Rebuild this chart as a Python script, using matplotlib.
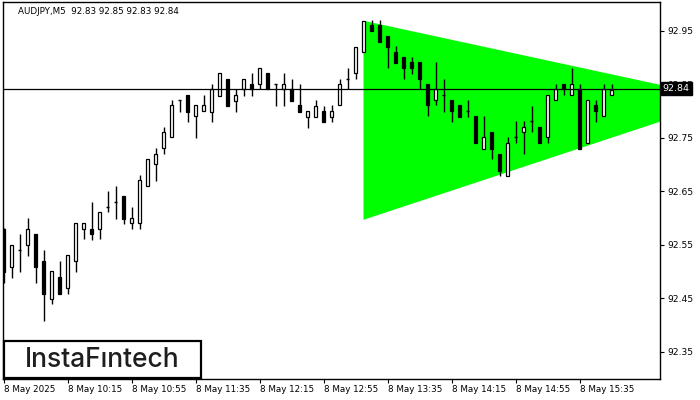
"""AUDJPY M5 candles with a bullish symmetrical triangle (MT4 style)."""
import matplotlib
matplotlib.use("Agg")
import matplotlib.pyplot as plt
from matplotlib.patches import Rectangle, Polygon
from matplotlib.transforms import blended_transform_factory

SYMBOL = "AUDJPY,M5"
LAST_OHLC = [92.83, 92.85, 92.83, 92.84]
BID = 92.842

# one entry per 5-minute bar, 09:35 .. 15:55
opens = [92.580, 92.509, 92.540, 92.550, 92.571, 92.520, 92.449, 92.490, 92.470, 92.520,
         92.580, 92.580, 92.580, 92.621, 92.630, 92.642, 92.591, 92.591, 92.660, 92.701,
         92.731, 92.752, 92.821, 92.830, 92.791, 92.800, 92.799, 92.829, 92.860, 92.819,
         92.842, 92.851, 92.851, 92.871, 92.851, 92.842, 92.842, 92.812, 92.789, 92.789,
         92.800, 92.789, 92.812, 92.860, 92.871, 92.911, 92.961, 92.961, 92.941, 92.911,
         92.901, 92.892, 92.892, 92.851, 92.821, 92.830, 92.821, 92.812, 92.800, 92.791,
         92.729, 92.761, 92.720, 92.679, 92.752, 92.761, 92.782, 92.771, 92.752, 92.821,
         92.851, 92.830, 92.842, 92.741, 92.812, 92.791, 92.830]
highs = [92.582, 92.550, 92.571, 92.600, 92.571, 92.541, 92.501, 92.520, 92.531, 92.591,
         92.591, 92.630, 92.612, 92.651, 92.660, 92.642, 92.621, 92.681, 92.711, 92.731,
         92.771, 92.821, 92.821, 92.830, 92.812, 92.830, 92.851, 92.871, 92.860, 92.842,
         92.860, 92.871, 92.881, 92.871, 92.851, 92.871, 92.860, 92.851, 92.800, 92.821,
         92.810, 92.812, 92.860, 92.881, 92.920, 92.969, 92.971, 92.971, 92.941, 92.922,
         92.901, 92.901, 92.892, 92.851, 92.892, 92.860, 92.821, 92.812, 92.821, 92.791,
         92.791, 92.761, 92.720, 92.752, 92.782, 92.782, 92.810, 92.771, 92.830, 92.851,
         92.851, 92.881, 92.851, 92.821, 92.821, 92.851, 92.851]
lows = [92.479, 92.488, 92.500, 92.529, 92.479, 92.408, 92.440, 92.458, 92.458, 92.500,
        92.561, 92.559, 92.561, 92.612, 92.599, 92.589, 92.580, 92.580, 92.660, 92.670,
        92.720, 92.752, 92.799, 92.780, 92.750, 92.800, 92.780, 92.829, 92.810, 92.799,
        92.829, 92.829, 92.842, 92.842, 92.810, 92.810, 92.819, 92.799, 92.769, 92.789,
        92.780, 92.780, 92.812, 92.842, 92.860, 92.911, 92.950, 92.929, 92.881, 92.890,
        92.860, 92.870, 92.842, 92.791, 92.812, 92.799, 92.780, 92.789, 92.789, 92.741,
        92.729, 92.711, 92.679, 92.679, 92.741, 92.720, 92.761, 92.741, 92.741, 92.821,
        92.830, 92.830, 92.729, 92.741, 92.780, 92.791, 92.830]
closes = [92.500, 92.550, 92.540, 92.580, 92.509, 92.458, 92.501, 92.458, 92.531, 92.591,
          92.591, 92.571, 92.612, 92.621, 92.630, 92.599, 92.600, 92.671, 92.711, 92.720,
          92.761, 92.812, 92.821, 92.799, 92.812, 92.812, 92.842, 92.871, 92.810, 92.830,
          92.860, 92.842, 92.881, 92.842, 92.851, 92.851, 92.819, 92.799, 92.800, 92.810,
          92.780, 92.800, 92.851, 92.860, 92.920, 92.969, 92.950, 92.929, 92.920, 92.890,
          92.881, 92.881, 92.860, 92.812, 92.842, 92.830, 92.800, 92.789, 92.800, 92.741,
          92.752, 92.729, 92.688, 92.741, 92.752, 92.771, 92.782, 92.741, 92.830, 92.842,
          92.842, 92.851, 92.729, 92.821, 92.800, 92.842, 92.840]

time_tick_bars = [0, 8, 16, 24, 32, 40, 48, 56, 64, 72]
time_tick_labels = ["8 May 2025", "8 May 10:15", "8 May 10:55", "8 May 11:35",
                    "8 May 12:15", "8 May 12:55", "8 May 13:35", "8 May 14:15",
                    "8 May 14:55", "8 May 15:35"]
price_ticks = [92.35, 92.45, 92.55, 92.65, 92.75, 92.85, 92.95]

# triangle: start bar, apex bar (right of the visible area)
tri_x = [45, 90.5, 45]
tri_y = [92.969, 92.822, 92.597]

W, H = 700, 400
BODY = 0.45
FONT = "DejaVu Sans"


def draw_candles(ax):
    for i, (o, h, l, c) in enumerate(zip(opens, highs, lows, closes)):
        ax.vlines(i, l, h, color="black", lw=1.0, zorder=3)
        if abs(c - o) < 0.002:
            ax.hlines(o, i - BODY / 2, i + BODY / 2, color="black", lw=1.0, zorder=4)
            continue
        face = "white" if c > o else "black"
        ax.add_patch(Rectangle((i - BODY / 2, min(o, c)), BODY, abs(c - o),
                               facecolor=face, edgecolor="black", lw=0.9, zorder=4))


def main():
    fig = plt.figure(figsize=(W / 100, H / 100), dpi=100)
    ax = fig.add_axes([2.5 / W, 21 / H, 657.5 / W, 377 / H])
    ax.set_xlim(-0.125, 82.06)
    ax.set_ylim(92.2995, 93.004)

    ax.add_patch(Polygon(list(zip(tri_x, tri_y)), closed=True,
                         facecolor="#00ff00", edgecolor="none", zorder=1))
    draw_candles(ax)
    ax.axhline(BID, color="black", lw=0.9, zorder=5)

    for s in ax.spines.values():
        s.set_color("black")
        s.set_linewidth(1.0)

    ax.set_xticks(time_tick_bars)
    ax.set_xticklabels(time_tick_labels, ha="left", fontsize=6.3, family=FONT)
    ax.yaxis.tick_right()
    ax.set_yticks(price_ticks)
    ax.set_yticklabels([f"{p:.2f}" for p in price_ticks], fontsize=6.6, family=FONT)
    ax.tick_params(length=3, width=0.8, colors="black")
    ax.tick_params(axis="x", pad=1)
    ax.tick_params(axis="y", pad=2)

    ax.text(15.5 / 657.5, 1 - 9 / 377, f"{SYMBOL}  " + " ".join(f"{v:.2f}" for v in LAST_OHLC),
            transform=ax.transAxes, fontsize=6.3, family=FONT, va="center", ha="left")

    tr = blended_transform_factory(ax.transAxes, ax.transData)
    ax.text(1.004, BID, f"{BID:.2f}", transform=tr, fontsize=6.8, family=FONT,
            color="white", va="center", ha="left", zorder=10, clip_on=False,
            bbox=dict(boxstyle="square,pad=0.2", facecolor="black", edgecolor="black"))

    # logo box in the lower left corner
    fig.add_artist(Rectangle((3.5 / W, 1 - 378 / H), 197 / W, 37 / H, transform=fig.transFigure,
                             facecolor="white", edgecolor="black", lw=1.6, zorder=20))
    fig.text(102 / W, 1 - 360 / H, "InstaF\u0131ntech", fontsize=19, color="#1e1e1e",
             family=["Inter", "DejaVu Sans"], fontweight="medium",
             ha="center", va="center", zorder=21)

    fig.savefig("out.png", dpi=100)


if __name__ == "__main__":
    main()
